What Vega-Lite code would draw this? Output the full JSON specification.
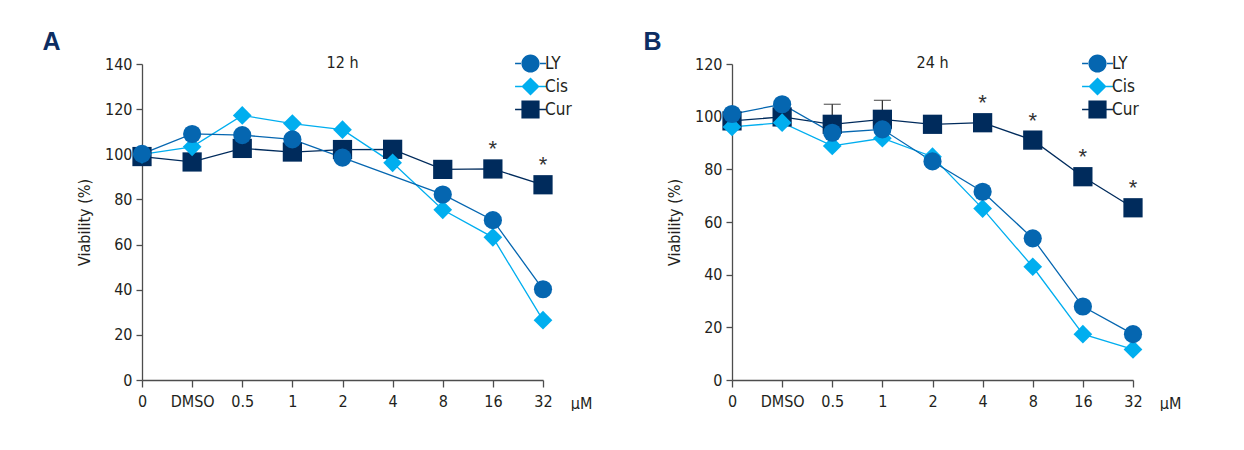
{
  "$schema": "https://vega.github.io/schema/vega-lite/v6.json",
  "padding": {"left": 42, "top": 30, "right": 0, "bottom": 0},
  "background": "white",
  "config": {
    "view": {"stroke": null},
    "font": "Liberation Sans Narrow, DejaVu Sans Condensed, sans-serif",
    "axis": {
      "labelFont": "Liberation Sans Narrow, DejaVu Sans Condensed, sans-serif",
      "labelFontSize": 16, "labelColor": "#231f20",
      "titleFont": "Liberation Sans Narrow, DejaVu Sans Condensed, sans-serif",
      "titleFontSize": 16, "titleFontWeight": "normal", "titleColor": "#231f20",
      "domainColor": "#4d4d4d", "tickColor": "#4d4d4d", "domainWidth": 1.3, "tickWidth": 1.3,
      "grid": false
    }
  },
  "datasets": {
    "d12": [
      {"d": "Cur", "c": "0", "i": 0, "v": 99},
      {"d": "Cur", "c": "DMSO", "i": 1, "v": 96.6},
      {"d": "Cur", "c": "0.5", "i": 2, "v": 102.6},
      {"d": "Cur", "c": "1", "i": 3, "v": 101},
      {"d": "Cur", "c": "2", "i": 4, "v": 102.1},
      {"d": "Cur", "c": "4", "i": 5, "v": 102.2},
      {"d": "Cur", "c": "8", "i": 6, "v": 93.3},
      {"d": "Cur", "c": "16", "i": 7, "v": 93.5, "s": "*"},
      {"d": "Cur", "c": "32", "i": 8, "v": 86.5, "s": "*"},
      {"d": "Cis", "c": "0", "i": 0, "v": 100},
      {"d": "Cis", "c": "DMSO", "i": 1, "v": 103.3},
      {"d": "Cis", "c": "0.5", "i": 2, "v": 117.2},
      {"d": "Cis", "c": "1", "i": 3, "v": 113.6},
      {"d": "Cis", "c": "2", "i": 4, "v": 110.9},
      {"d": "Cis", "c": "4", "i": 5, "v": 96.2},
      {"d": "Cis", "c": "8", "i": 6, "v": 75.4},
      {"d": "Cis", "c": "16", "i": 7, "v": 63.2},
      {"d": "Cis", "c": "32", "i": 8, "v": 26.5},
      {"d": "LY", "c": "0", "i": 0, "v": 100.2},
      {"d": "LY", "c": "DMSO", "i": 1, "v": 109},
      {"d": "LY", "c": "0.5", "i": 2, "v": 108.5},
      {"d": "LY", "c": "1", "i": 3, "v": 106.6},
      {"d": "LY", "c": "2", "i": 4, "v": 98.5},
      {"d": "LY", "c": "8", "i": 6, "v": 82.2},
      {"d": "LY", "c": "16", "i": 7, "v": 70.8},
      {"d": "LY", "c": "32", "i": 8, "v": 40.2}
    ],
    "d24": [
      {"d": "Cur", "c": "0", "i": 0, "v": 98.4},
      {"d": "Cur", "c": "DMSO", "i": 1, "v": 99.9},
      {"d": "Cur", "c": "0.5", "i": 2, "v": 97.1, "hi": 104.7},
      {"d": "Cur", "c": "1", "i": 3, "v": 99, "hi": 106.2},
      {"d": "Cur", "c": "2", "i": 4, "v": 97.1},
      {"d": "Cur", "c": "4", "i": 5, "v": 97.7, "s": "*"},
      {"d": "Cur", "c": "8", "i": 6, "v": 91.1, "s": "*"},
      {"d": "Cur", "c": "16", "i": 7, "v": 77.2, "s": "*"},
      {"d": "Cur", "c": "32", "i": 8, "v": 65.4, "s": "*"},
      {"d": "Cis", "c": "0", "i": 0, "v": 96.1},
      {"d": "Cis", "c": "DMSO", "i": 1, "v": 97.7},
      {"d": "Cis", "c": "0.5", "i": 2, "v": 88.9},
      {"d": "Cis", "c": "1", "i": 3, "v": 91.8},
      {"d": "Cis", "c": "2", "i": 4, "v": 84.8},
      {"d": "Cis", "c": "4", "i": 5, "v": 65.1},
      {"d": "Cis", "c": "8", "i": 6, "v": 43},
      {"d": "Cis", "c": "16", "i": 7, "v": 17.4},
      {"d": "Cis", "c": "32", "i": 8, "v": 11.6},
      {"d": "LY", "c": "0", "i": 0, "v": 101},
      {"d": "LY", "c": "DMSO", "i": 1, "v": 104.7},
      {"d": "LY", "c": "0.5", "i": 2, "v": 93.9},
      {"d": "LY", "c": "1", "i": 3, "v": 95.2},
      {"d": "LY", "c": "2", "i": 4, "v": 83},
      {"d": "LY", "c": "4", "i": 5, "v": 71.5},
      {"d": "LY", "c": "8", "i": 6, "v": 53.8},
      {"d": "LY", "c": "16", "i": 7, "v": 27.9},
      {"d": "LY", "c": "32", "i": 8, "v": 17.4}
    ]
  },
  "spacing": 51,
  "hconcat": [
    {
      "title": {"text": "A", "anchor": "start", "font": "Liberation Sans", "fontSize": 25, "fontWeight": "bold", "color": "#0d2d62", "dx": -34, "offset": -1},
      "vconcat": [
        {
          "width": 401, "height": 316,
          "data": {"name": "d12"},
          "title": {"text": "12 h", "anchor": "middle", "font": "Liberation Sans Narrow, DejaVu Sans Condensed, sans-serif", "fontSize": 16, "fontWeight": "normal", "color": "#231f20", "offset": -17},
          "encoding": {
            "x": {"field": "c", "type": "ordinal",
              "scale": {"type": "point", "padding": 0, "domain": ["0", "DMSO", "0.5", "1", "2", "4", "8", "16", "32"]},
              "axis": {"labelAngle": 0, "labelPadding": 6, "tickSize": 7, "title": "μM", "titleX": 439, "titleY": 23, "titleBaseline": "middle", "titleAlign": "center"}},
            "y": {"field": "v", "type": "quantitative",
              "scale": {"domain": [0, 140], "nice": false},
              "axis": {"values": [0, 20, 40, 60, 80, 100, 120, 140], "tickSize": 6, "labelPadding": 4, "titlePadding": 12, "title": "Viability (%)"}}
          },
          "layer": [
            {
              "mark": {"type": "line", "strokeWidth": 1.3},
              "encoding": {
                "color": {"field": "d", "type": "nominal", "scale": {"domain": ["LY", "Cis", "Cur"], "range": ["#0566b0", "#00aeef", "#002b5c"]}, "legend": null},
                "order": {"field": "i", "type": "quantitative"}
              }
            },
            {
              "mark": {"type": "point", "filled": true, "opacity": 1},
              "encoding": {
                "color": {"field": "d", "type": "nominal", "scale": {"domain": ["LY", "Cis", "Cur"], "range": ["#0566b0", "#00aeef", "#002b5c"]}, "legend": null},
                "shape": {"field": "d", "type": "nominal", "scale": {"domain": ["LY", "Cis", "Cur"], "range": ["circle", "diamond", "square"]}, "legend": null},
                "size": {"field": "d", "type": "nominal", "scale": {"domain": ["LY", "Cis", "Cur"], "range": [330, 370, 370]}, "legend": null}
              }
            },
            {
              "transform": [{"filter": "datum.s"}],
              "mark": {"type": "text", "font": "Liberation Sans", "fontSize": 22, "baseline": "middle", "dy": -19.5, "color": "#333333"},
              "encoding": {"text": {"field": "s"}}
            },
            {
              "mark": {"type": "point", "filled": true, "opacity": 0},
              "encoding": {
                "color": {"field": "d", "type": "nominal", "scale": {"domain": ["LY", "Cis", "Cur"], "range": ["#0566b0", "#00aeef", "#002b5c"]},
                  "legend": {"orient": "none", "legendX": 379, "legendY": -10, "title": null, "padding": 0, "symbolOffset": 0, "labelFont": "Liberation Sans Narrow, DejaVu Sans Condensed, sans-serif", "labelFontSize": 17, "labelColor": "#231f20", "symbolSize": 330, "symbolOpacity": 1, "symbolStrokeWidth": 0, "labelOffset": 5, "rowPadding": 4}},
                "shape": {"field": "d", "type": "nominal", "scale": {"domain": ["LY", "Cis", "Cur"], "range": [
                    "M-1.7,-0.08H-0.95V0.08H-1.7Z M0.95,-0.08H1.7V0.08H0.95Z M-1,0A1,1 0 1,0 1,0A1,1 0 1,0 -1,0Z",
                    "M-1.7,-0.08H-0.95V0.08H-1.7Z M0.95,-0.08H1.7V0.08H0.95Z M0,-1L1,0L0,1L-1,0Z",
                    "M-1.7,-0.08H-0.95V0.08H-1.7Z M0.95,-0.08H1.7V0.08H0.95Z M-1,-1H1V1H-1Z"]},
                  "legend": {"orient": "none", "legendX": 379, "legendY": -10, "title": null, "padding": 0, "symbolOffset": 0, "labelFont": "Liberation Sans Narrow, DejaVu Sans Condensed, sans-serif", "labelFontSize": 17, "labelColor": "#231f20", "symbolSize": 330, "symbolOpacity": 1, "symbolStrokeWidth": 0, "labelOffset": 5, "rowPadding": 4}}
              }
            }
          ],
          "resolve": {"scale": {"color": "independent", "shape": "independent", "size": "independent"}}
        }
      ]
    },
    {
      "title": {"text": "B", "anchor": "start", "font": "Liberation Sans", "fontSize": 25, "fontWeight": "bold", "color": "#0d2d62", "dx": -23, "offset": -1},
      "vconcat": [
        {
          "width": 401, "height": 316,
          "data": {"name": "d24"},
          "title": {"text": "24 h", "anchor": "middle", "font": "Liberation Sans Narrow, DejaVu Sans Condensed, sans-serif", "fontSize": 16, "fontWeight": "normal", "color": "#231f20", "offset": -17},
          "encoding": {
            "x": {"field": "c", "type": "ordinal",
              "scale": {"type": "point", "padding": 0, "domain": ["0", "DMSO", "0.5", "1", "2", "4", "8", "16", "32"]},
              "axis": {"labelAngle": 0, "labelPadding": 6, "tickSize": 7, "title": "μM", "titleX": 438, "titleY": 23, "titleBaseline": "middle", "titleAlign": "center"}},
            "y": {"field": "v", "type": "quantitative",
              "scale": {"domain": [0, 120], "nice": false},
              "axis": {"values": [0, 20, 40, 60, 80, 100, 120], "tickSize": 6, "labelPadding": 4, "titlePadding": 12, "title": "Viability (%)"}}
          },
          "layer": [
            {
              "mark": {"type": "line", "strokeWidth": 1.3},
              "encoding": {
                "color": {"field": "d", "type": "nominal", "scale": {"domain": ["LY", "Cis", "Cur"], "range": ["#0566b0", "#00aeef", "#002b5c"]}, "legend": null},
                "order": {"field": "i", "type": "quantitative"}
              }
            },
            {
              "transform": [{"filter": "datum.hi"}],
              "mark": {"type": "rule", "color": "#333333", "strokeWidth": 1.3},
              "encoding": {"y2": {"field": "hi"}}
            },
            {
              "transform": [{"filter": "datum.hi"}],
              "mark": {"type": "tick", "orient": "horizontal", "color": "#333333", "thickness": 1.3, "size": 17},
              "encoding": {"y": {"field": "hi", "type": "quantitative"}}
            },
            {
              "mark": {"type": "point", "filled": true, "opacity": 1},
              "encoding": {
                "color": {"field": "d", "type": "nominal", "scale": {"domain": ["LY", "Cis", "Cur"], "range": ["#0566b0", "#00aeef", "#002b5c"]}, "legend": null},
                "shape": {"field": "d", "type": "nominal", "scale": {"domain": ["LY", "Cis", "Cur"], "range": ["circle", "diamond", "square"]}, "legend": null},
                "size": {"field": "d", "type": "nominal", "scale": {"domain": ["LY", "Cis", "Cur"], "range": [330, 370, 370]}, "legend": null}
              }
            },
            {
              "transform": [{"filter": "datum.s"}],
              "mark": {"type": "text", "font": "Liberation Sans", "fontSize": 22, "baseline": "middle", "dy": -19.5, "color": "#333333"},
              "encoding": {"text": {"field": "s"}}
            },
            {
              "mark": {"type": "point", "filled": true, "opacity": 0},
              "encoding": {
                "color": {"field": "d", "type": "nominal", "scale": {"domain": ["LY", "Cis", "Cur"], "range": ["#0566b0", "#00aeef", "#002b5c"]},
                  "legend": {"orient": "none", "legendX": 356, "legendY": -10, "title": null, "padding": 0, "symbolOffset": 0, "labelFont": "Liberation Sans Narrow, DejaVu Sans Condensed, sans-serif", "labelFontSize": 17, "labelColor": "#231f20", "symbolSize": 330, "symbolOpacity": 1, "symbolStrokeWidth": 0, "labelOffset": 5, "rowPadding": 4}},
                "shape": {"field": "d", "type": "nominal", "scale": {"domain": ["LY", "Cis", "Cur"], "range": [
                    "M-1.7,-0.08H-0.95V0.08H-1.7Z M0.95,-0.08H1.7V0.08H0.95Z M-1,0A1,1 0 1,0 1,0A1,1 0 1,0 -1,0Z",
                    "M-1.7,-0.08H-0.95V0.08H-1.7Z M0.95,-0.08H1.7V0.08H0.95Z M0,-1L1,0L0,1L-1,0Z",
                    "M-1.7,-0.08H-0.95V0.08H-1.7Z M0.95,-0.08H1.7V0.08H0.95Z M-1,-1H1V1H-1Z"]},
                  "legend": {"orient": "none", "legendX": 356, "legendY": -10, "title": null, "padding": 0, "symbolOffset": 0, "labelFont": "Liberation Sans Narrow, DejaVu Sans Condensed, sans-serif", "labelFontSize": 17, "labelColor": "#231f20", "symbolSize": 330, "symbolOpacity": 1, "symbolStrokeWidth": 0, "labelOffset": 5, "rowPadding": 4}}
              }
            }
          ],
          "resolve": {"scale": {"color": "independent", "shape": "independent", "size": "independent"}}
        }
      ]
    }
  ]
}
